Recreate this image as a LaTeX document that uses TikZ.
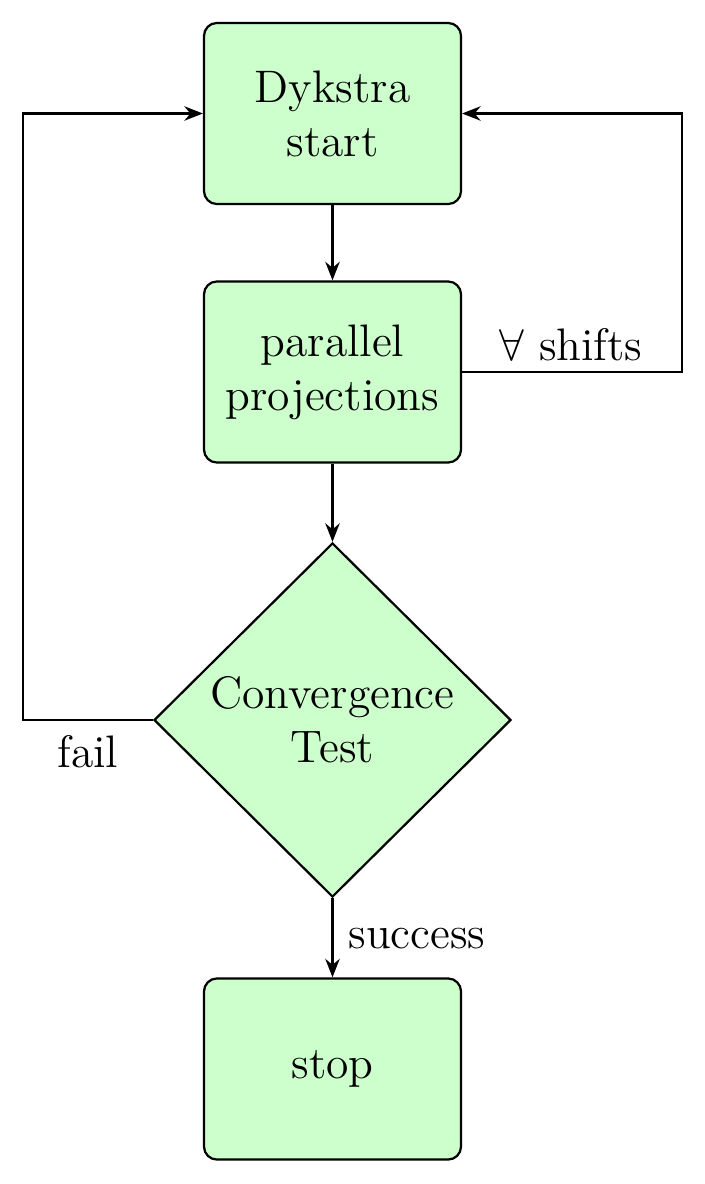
\documentclass[tikz,border=0pt]{standalone}
\usetikzlibrary{shapes.geometric,arrows.meta}
\definecolor{boxfill}{rgb}{0.8,1,0.8}
\tikzset{
  every node/.style={font=\fontsize{12.3}{14.6}\selectfont, align=center},
  procbox/.style={draw, fill=boxfill, line width=0.6pt, rounded corners=3.5pt,
    minimum width=69.4pt, minimum height=48.9pt, inner sep=0pt},
  decbox/.style={draw, fill=boxfill, line width=0.6pt, diamond, aspect=1,
    minimum width=96.4pt, minimum height=95.6pt, inner sep=0pt},
  conn/.style={line width=0.55pt, -{Stealth[length=5pt,width=3.9pt]}},
  lbl/.style={inner sep=0pt}
}
\begin{document}
\begin{tikzpicture}[x=0.27pt,y=-0.27pt]
\useasboundingbox (0,0) rectangle (705,1184);
\node[procbox] (A) at (332.5,113.5) {Dykstra\\start};
\node[procbox] (B) at (332.5,372) {parallel\\projections};
\node[decbox] (C) at (332.5,720) {Convergence\\Test};
\node[procbox] (D) at (332.5,1069) {stop};
\coordinate (L1) at (23,720);
\coordinate (R1) at (682,372);
\draw[conn] (A) -- (B);
\draw[conn] (B) -- (C);
\draw[conn] (C) -- (D);
\draw[conn] (C.west) -- (L1) |- (A.west);
\draw[conn] (B.east) -- (R1) |- (A.east);
\node[lbl] (s) at (571,345) {$\forall$ shifts};
\node[lbl] (f) at (88,752) {fail};
\node[lbl] (su) at (417,939) {success};
\end{tikzpicture}
\end{document}
